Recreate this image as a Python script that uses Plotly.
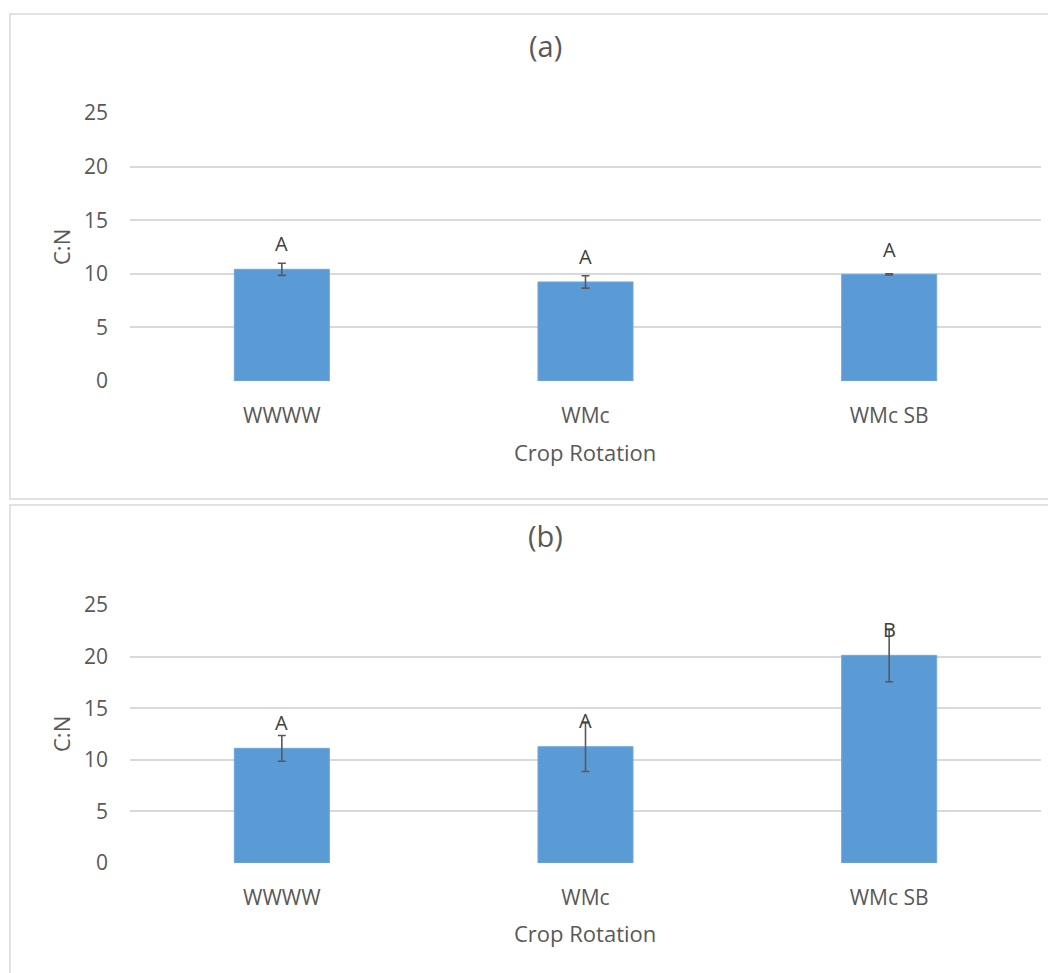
import plotly.graph_objects as go

categories = ["WWWW", "WMc", "WMc SB"]
cn_a = [10.42, 9.24, 9.95]
err_a = [0.57, 0.58, 0.05]
letters_a = ["A", "A", "A"]
letter_y_a = [12.8, 11.6, 12.3]

cn_b = [11.11, 11.27, 20.12]
err_b = [1.25, 2.4, 2.55]
letters_b = ["A", "A", "B"]
letter_y_b = [13.6, 13.8, 22.6]

panel_titles = ["(a)", "(b)"]
y_ticks = [0, 5, 10, 15, 20, 25]

W, H = 1056, 973
OFF = 8  # page body margin

def px(x):
    return (x - OFF) / W

def py(y):
    return 1 - (y - OFF) / H

BAR = "#5B9BD5"
GRID = "#D9D9D9"
TXT = "#595959"
FONT = "Open Sans"

fig = go.Figure()

panels = [
    dict(vals=cn_a, err=err_a, letters=letters_a, ly=letter_y_a, top=113, bot=381,
         title_y=45, xt_y=452, box=(10, 14, 1070, 499)),
    dict(vals=cn_b, err=err_b, letters=letters_b, ly=letter_y_b, top=605, bot=863,
         title_y=535, xt_y=933, box=(10, 505, 1070, 995)),
]

for i, p in enumerate(panels):
    xa = "x" if i == 0 else "x2"
    ya = "y" if i == 0 else "y2"
    fig.add_trace(go.Bar(
        x=categories, y=p["vals"], xaxis=xa, yaxis=ya,
        marker=dict(color=BAR, line=dict(color="#6FA8DC", width=1)),
        width=0.313,
        error_y=dict(type="data", array=p["err"], visible=True,
                     color="#595959", thickness=1.6, width=4),
        showlegend=False, hoverinfo="skip",
    ))
    for c, l, yy in zip(categories, p["letters"], p["ly"]):
        fig.add_annotation(x=c, y=yy, xref=xa, yref=ya, text=l, showarrow=False,
                           yanchor="middle",
                           font=dict(family=FONT, size=20, color="#404040"))
    axsuffix = "" if i == 0 else "2"
    fig.layout["xaxis" + axsuffix] = dict(
        domain=[px(130), px(1041)], anchor=ya, showgrid=False, zeroline=False,
        showline=False, ticks="", ticklabelstandoff=20, automargin=False,
        tickfont=dict(family=FONT, size=21, color=TXT))
    fig.layout["yaxis" + axsuffix] = dict(
        domain=[py(p["bot"]), py(p["top"])], anchor=xa, range=[0, 25],
        tickvals=y_ticks, showgrid=True, gridcolor=GRID, gridwidth=1.5,
        zeroline=False, showline=False, ticks="", ticklabelstandoff=21,
        automargin=False,
        tickfont=dict(family=FONT, size=21, color=TXT))
    fig.add_annotation(x=px(545), y=py(p["title_y"]), xref="paper", yref="paper",
                       text=panel_titles[i], showarrow=False, yanchor="middle",
                       font=dict(family=FONT, size=29, color=TXT))
    fig.add_annotation(x=px(585), y=py(p["xt_y"]), xref="paper", yref="paper",
                       text="Crop Rotation", showarrow=False, yanchor="middle",
                       font=dict(family=FONT, size=22, color=TXT))
    fig.add_annotation(x=px(61), y=py((p["top"] + p["bot"]) / 2), xref="paper",
                       yref="paper", text="C:N", showarrow=False, textangle=-90,
                       xanchor="center", yanchor="middle",
                       font=dict(family=FONT, size=22, color=TXT))
    x0, y0, x1, y1 = p["box"]
    fig.add_shape(type="rect", xref="paper", yref="paper",
                  x0=px(x0), x1=px(x1), y0=py(y1), y1=py(y0),
                  line=dict(color=GRID, width=1.5), layer="below")

fig.update_layout(width=W, height=H, margin=dict(l=0, r=0, t=0, b=0),
                  paper_bgcolor="white", plot_bgcolor="white")

fig.write_html("out.html")
